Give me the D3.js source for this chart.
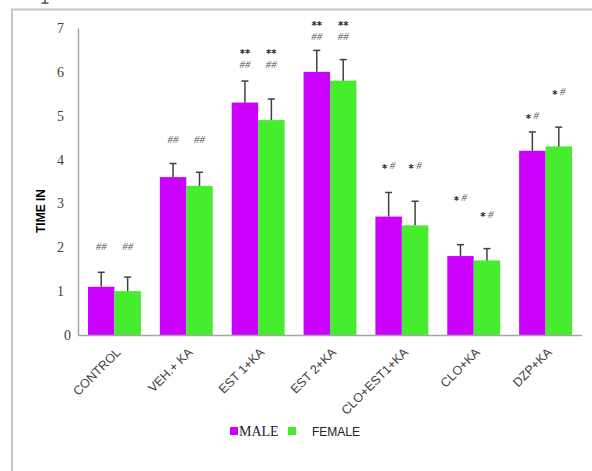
<!DOCTYPE html>
<html>
<head>
<meta charset="utf-8">
<script src="https://cdn.jsdelivr.net/npm/d3@7"></script>
<style>
  html, body { margin: 0; padding: 0; background: #fff; }
  svg { display: block; }
</style>
</head>
<body>
<svg id="chart" width="592" height="471"></svg>
<script>
// Groups and the two series plotted for each
const categories = ["CONTROL", "VEH.+ KA", "EST 1+KA", "EST 2+KA", "CLO+EST1+KA", "CLO+KA", "DZP+KA"];
const seriesNames = ["MALE", "FEMALE"];
const maleValues   = [1.1, 3.6, 5.3, 6.0, 2.7, 1.8, 4.2];
const femaleValues = [1.0, 3.4, 4.9, 5.8, 2.5, 1.7, 4.3];
const maleErrors   = [0.33, 0.31, 0.49, 0.49, 0.55, 0.26, 0.43];
const femaleErrors = [0.32, 0.31, 0.48, 0.48, 0.55, 0.27, 0.44];
const yTicks = [0, 1, 2, 3, 4, 5, 6, 7];

// Significance marks (one list of lines per bar) and the axis value of the top line
const maleMarks   = [["##"], ["##"], ["**", "##"], ["**", "##"], ["*#"], ["*#"], ["*#"]];
const femaleMarks = [["##"], ["##"], ["**", "##"], ["**", "##"], ["*#"], ["*#"], ["*#"]];
const maleMarkLevels   = [2.03, 4.46, 6.48, 7.13, 3.87, 3.14, 5.01];
const femaleMarkLevels = [2.03, 4.46, 6.48, 7.13, 3.87, 2.76, 5.56];

const colors = { MALE: "#CC00FF", FEMALE: "#46EC2E" };

const svg = d3.select("#chart");

// Outer frame (top and left edges)
svg.append("line").attr("x1", 11).attr("y1", 9.5).attr("x2", 592).attr("y2", 9.5)
  .attr("stroke", "#c6c6c6").attr("stroke-width", 2);
svg.append("line").attr("x1", 12).attr("y1", 9).attr("x2", 12).attr("y2", 471)
  .attr("stroke", "#c6c6c6").attr("stroke-width", 2);
// Foot of a glyph from the line above the frame
svg.append("path").attr("d", "M45,0V3M41.5,3.2H48.5")
  .attr("stroke", "#333").attr("stroke-width", 1.3).attr("fill", "none");

const x = d3.scaleBand().domain(categories).range([78, 582])
  .paddingInner(0.264).paddingOuter(0.139);
const xSub = d3.scaleBand().domain(seriesNames).range([0, x.bandwidth()]);
const y = d3.scaleLinear().domain([0, 7]).range([335, 28]);

const rows = categories.map((c, i) => ({
  cat: c,
  bars: [
    { s: "MALE", v: maleValues[i], e: maleErrors[i], marks: maleMarks[i], lvl: maleMarkLevels[i] },
    { s: "FEMALE", v: femaleValues[i], e: femaleErrors[i], marks: femaleMarks[i], lvl: femaleMarkLevels[i] }
  ]
}));

// Y axis
const yAxis = svg.append("g").attr("transform", "translate(78,0)")
  .call(d3.axisLeft(y).tickValues(yTicks).tickSize(0).tickPadding(14).tickFormat(d3.format("d")));
yAxis.select(".domain").attr("stroke", "#a6a6a6").attr("stroke-width", 1.5);
yAxis.selectAll("text").attr("font-family", "Liberation Serif, serif").attr("font-size", 14)
  .attr("fill", "#404040").attr("dx", d => d === 0 ? 7 : 0);

// Bars
const groups = svg.append("g").selectAll("g").data(rows).join("g")
  .attr("transform", d => `translate(${x(d.cat)},0)`);

groups.selectAll("rect").data(d => d.bars).join("rect")
  .attr("x", d => xSub(d.s))
  .attr("y", d => y(d.v))
  .attr("width", xSub.bandwidth())
  .attr("height", d => y(0) - y(d.v))
  .attr("fill", d => colors[d.s]);

// Error bars (upper half)
const eb = groups.selectAll("g.err").data(d => d.bars).join("g").attr("class", "err");
eb.append("line")
  .attr("x1", d => xSub(d.s) + xSub.bandwidth() / 2).attr("x2", d => xSub(d.s) + xSub.bandwidth() / 2)
  .attr("y1", d => y(d.v)).attr("y2", d => y(d.v + d.e))
  .attr("stroke", "#404040").attr("stroke-width", 1.5);
eb.append("line")
  .attr("x1", d => xSub(d.s) + xSub.bandwidth() / 2 - 3.5).attr("x2", d => xSub(d.s) + xSub.bandwidth() / 2 + 3.5)
  .attr("y1", d => y(d.v + d.e)).attr("y2", d => y(d.v + d.e))
  .attr("stroke", "#404040").attr("stroke-width", 1.5);

// Significance marks; asterisks sit at mid-height of the line
groups.selectAll("g.marks").data(d => d.bars).join("g").attr("class", "marks")
  .each(function(d) {
    const g = d3.select(this);
    const cx = xSub(d.s) + xSub.bandwidth() / 2;
    d.marks.forEach((m, k) => {
      const t = g.append("text")
        .attr("x", cx).attr("y", y(d.lvl) + k * 13.5 + 4)
        .attr("text-anchor", "middle").attr("font-size", 11);
      let shifted = 0;
      [...m].forEach((ch, j) => {
        if (ch === "*") {
          const dy = 2.5 - shifted;
          shifted = 2.5;
          t.append("tspan").attr("font-family", "DejaVu Sans, sans-serif").attr("font-weight", "bold")
            .attr("font-size", 10).attr("fill", "#222").attr("dy", dy).text("*");
        } else {
          const dy = -shifted;
          shifted = 0;
          t.append("tspan").attr("font-family", "Liberation Serif, serif").attr("font-style", "italic")
            .attr("fill", "#555").attr("dy", dy)
            .attr("dx", j > 0 && m[j - 1] === "*" ? 2.5 : 0).text(ch);
        }
      });
    });
  });

// X axis baseline
svg.append("line").attr("x1", 78).attr("x2", 582).attr("y1", y(0) + 0.5).attr("y2", y(0) + 0.5)
  .attr("stroke", "#a6a6a6").attr("stroke-width", 1.5);

// Category labels
svg.append("g").selectAll("text").data(categories).join("text")
  .attr("transform", d => `translate(${x(d) + x.bandwidth() / 2 + 7},${353}) rotate(-45)`)
  .attr("text-anchor", "end")
  .attr("font-family", "Liberation Sans, Arial, sans-serif").attr("font-size", 12.5)
  .attr("fill", "#404040")
  .text(d => d);

// Y axis title
svg.append("text")
  .attr("transform", "translate(45,211) rotate(-90)")
  .attr("text-anchor", "middle")
  .attr("font-family", "Liberation Sans, Arial, sans-serif").attr("font-weight", "bold").attr("font-size", 12)
  .attr("fill", "#000")
  .text("TIME IN");

// Legend
const legend = svg.append("g");
const legendItems = [
  { s: "MALE", sx: 230, tx: 239, font: "Liberation Serif, serif", size: 14 },
  { s: "FEMALE", sx: 288, tx: 312, font: "Liberation Sans, Arial, sans-serif", size: 12 }
];
legend.selectAll("rect").data(legendItems).join("rect")
  .attr("x", d => d.sx).attr("y", 427).attr("width", 8).attr("height", 8)
  .attr("fill", d => colors[d.s]);
legend.selectAll("text").data(legendItems).join("text")
  .attr("x", d => d.tx).attr("y", 436)
  .attr("font-family", d => d.font).attr("font-size", d => d.size)
  .attr("fill", "#222")
  .text(d => d.s);
</script>
</body>
</html>
